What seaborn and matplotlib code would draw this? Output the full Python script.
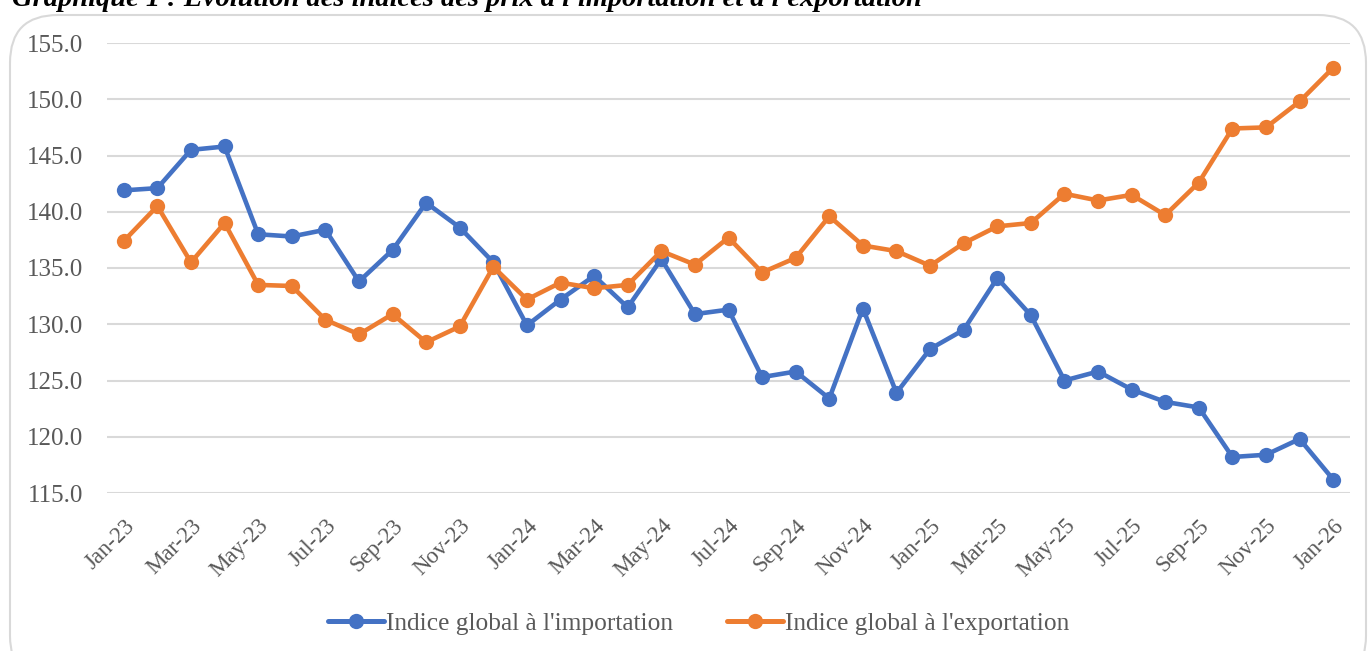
import pandas as pd
import matplotlib.pyplot as plt
import seaborn as sns
from matplotlib.patches import FancyBboxPatch

# Monthly indices, Jan-23 .. Jan-26
months = pd.date_range("2023-01-01", "2026-01-01", freq="MS").strftime("%b-%y").tolist()

import_idx = [141.9, 142.1, 145.5, 145.8, 138.0, 137.8, 138.4, 133.8, 136.6, 140.8, 138.6, 135.5,
              129.9, 132.2, 134.3, 131.5, 135.8, 130.9, 131.3, 125.3, 125.8, 123.4, 131.4, 123.9,
              127.8, 129.5, 134.1, 130.8, 125.0, 125.8, 124.2, 123.1, 122.6, 118.2, 118.4, 119.8,
              116.2]
export_idx = [137.4, 140.5, 135.5, 139.0, 133.5, 133.4, 130.4, 129.1, 130.9, 128.4, 129.8, 135.1,
              132.2, 133.7, 133.2, 133.5, 136.5, 135.3, 137.7, 134.6, 135.9, 139.6, 137.0, 136.5,
              135.2, 137.2, 138.7, 139.0, 141.6, 141.0, 141.5, 139.7, 142.6, 147.4, 147.5, 149.8,
              152.8]

series_names = ["Indice global à l'importation", "Indice global à l'exportation"]
series_colors = ["#4472C4", "#ED7D31"]

df = pd.DataFrame({
    "pos": list(range(len(months))) * 2,
    "value": import_idx + export_idx,
    "serie": [series_names[0]] * len(months) + [series_names[1]] * len(months),
})

sns.set_theme(style="white")
plt.rcParams["font.family"] = ["Liberation Serif", "DejaVu Serif"]

fig = plt.figure(figsize=(13.7, 6.51), dpi=100)

# chart frame with rounded corners
frame = FancyBboxPatch((10 / 1370, -0.05), 1356 / 1370, 1.05 - 15 / 651,
                       boxstyle="round,pad=0,rounding_size=0.035",
                       transform=fig.transFigure, facecolor="white",
                       edgecolor="#D9D9D9", linewidth=1.5, zorder=-1,
                       mutation_aspect=1370 / 651)
fig.patches.append(frame)

ax = fig.add_axes([107 / 1370, 1 - 493 / 651, (1350 - 107) / 1370, (493 - 43) / 651])
ax.set_facecolor("none")
ax.set_zorder(2)

sns.lineplot(data=df, x="pos", y="value", hue="serie", palette=series_colors,
             marker="o", markersize=11, markeredgewidth=0, linewidth=3.3,
             ax=ax, legend=False)

ax.set_xlim(-0.5, len(months) - 0.5)
ax.set_ylim(115, 155)
ax.set_yticks(range(115, 156, 5))
ax.set_yticklabels([f"{v:.1f}" for v in range(115, 156, 5)], fontsize=18, color="#595959")
ax.set_xticks(range(0, len(months), 2))
ax.set_xticklabels(months[::2], rotation=45, ha="right", rotation_mode="anchor",
                   fontsize=16.5, color="#595959")
ax.tick_params(axis="x", length=0, pad=16)
ax.tick_params(axis="y", length=0, pad=17)
ax.grid(axis="y", color="#D9D9D9", linewidth=1.5)
ax.set_axisbelow(True)
ax.set_xlabel("")
ax.set_ylabel("")
for s in ax.spines.values():
    s.set_visible(False)

handles = [plt.Line2D([], [], color=c, marker="o", markersize=11, linewidth=3.6,
                      markeredgewidth=0) for c in series_colors]
fig.legend(handles, series_names, loc="center", bbox_to_anchor=(0.51, 1 - 624 / 651),
           ncol=2, frameon=False, fontsize=18.3, labelcolor="#595959",
           handlelength=2.2, handletextpad=0.1, columnspacing=2.1)

fig.text(12 / 1370, 1.0, "Graphique 1 : Evolution des indices des prix à l'importation et à l'exportation",
         fontsize=20.5, fontweight="bold", fontstyle="italic", color="black",
         ha="left", va="center")

fig.savefig("out.png", dpi=100)
